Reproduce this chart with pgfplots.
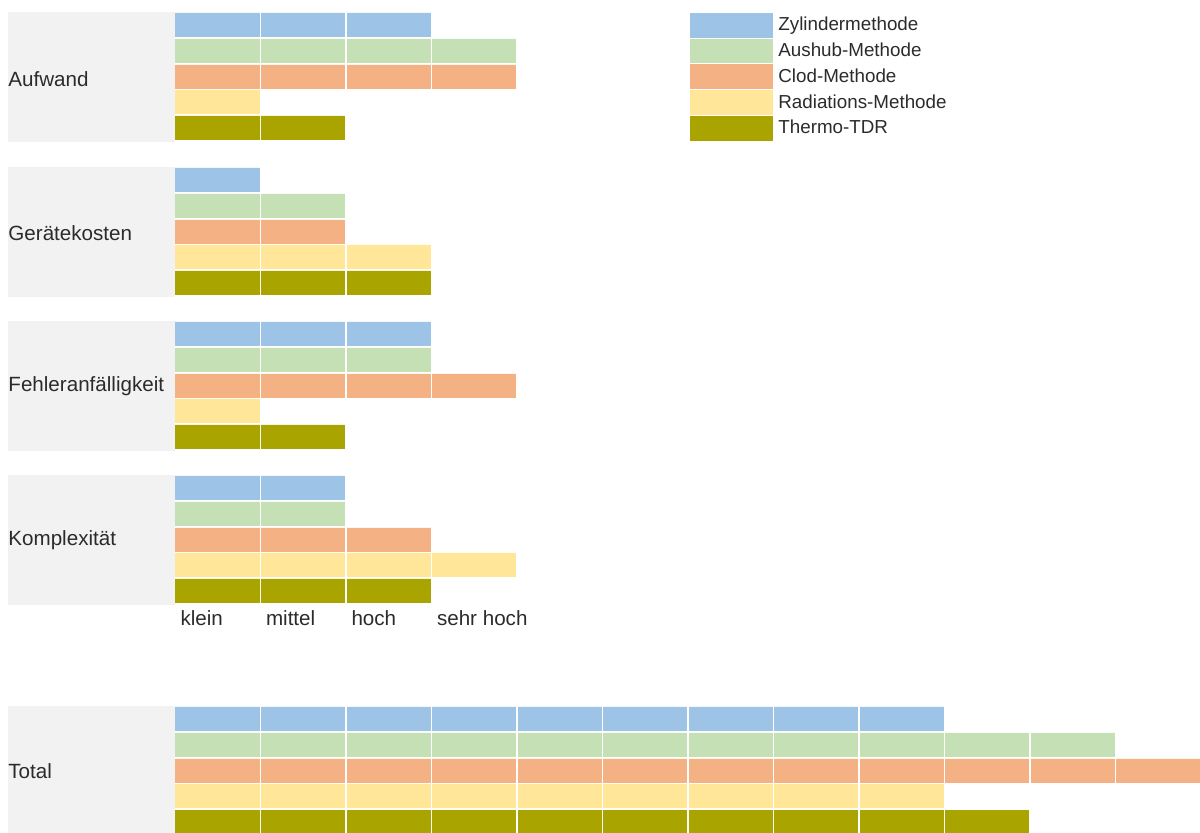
\documentclass[border=0pt]{standalone}
\usepackage{pgfplots}
\pgfplotsset{compat=1.18}
\usepackage{fontspec}
\setmainfont{Liberation Sans}

\definecolor{zyl}{HTML}{9DC3E6}
\definecolor{aus}{HTML}{C5E0B4}
\definecolor{clod}{HTML}{F4B183}
\definecolor{rad}{HTML}{FFE699}
\definecolor{thermo}{HTML}{A9A400}
\definecolor{panel}{HTML}{F2F2F2}
\definecolor{txt}{HTML}{2B2B2B}

\begin{document}
\begin{tikzpicture}[font=\fontsize{10.3}{12}\selectfont, text=txt]
\begin{axis}[
    scale only axis,
    width=600pt, height=416.5pt,
    xmin=-2.0468, xmax=11.9883,
    ymin=0, ymax=833, y dir=reverse,
    axis line style={draw=none},
    xtick={1,...,12}, xticklabels={}, ytick=\empty,
    major tick length=0pt,
    xmajorgrids,
    major grid style={white, line width=0.8pt},
    axis on top,
    legend style={at={(axis cs:6.023,12)}, anchor=north west,
        draw=none, fill=none, inner sep=0pt, row sep=0pt, column sep=2.5pt,
        font=\fontsize{9.4}{11}\selectfont, text=txt,
        nodes={inner sep=0pt, minimum height=12.9pt}},
    legend cell align=left,
    legend image code/.code={\fill[#1,draw=none] (0pt,-6.2pt) rectangle (41.5pt,6.2pt);},
]

% graue Felder hinter den Kategorien
\fill[panel] (axis cs:-1.953,12) rectangle (axis cs:0,142);
\fill[panel] (axis cs:-1.953,167) rectangle (axis cs:0,297);
\fill[panel] (axis cs:-1.953,321) rectangle (axis cs:0,451);
\fill[panel] (axis cs:-1.953,475) rectangle (axis cs:0,605);
\fill[panel] (axis cs:-1.953,706) rectangle (axis cs:0,833);

% Aufwand, Geraetekosten, Fehleranfaelligkeit, Komplexitaet, Total
\addplot[xbar, bar shift=0pt, bar width=24, fill=zyl, draw=none] coordinates {
    (3,25) (1,180) (3,334) (2,488) (9,719)
};
\addlegendentry{Zylindermethode}
\addplot[xbar, bar shift=0pt, bar width=24, fill=aus, draw=none] coordinates {
    (4,51) (2,206) (3,360) (2,514) (11,745)
};
\addlegendentry{Aushub-Methode}
\addplot[xbar, bar shift=0pt, bar width=24, fill=clod, draw=none] coordinates {
    (4,77) (2,232) (4,386) (3,540) (13,771)
};
\addlegendentry{Clod-Methode}
\addplot[xbar, bar shift=0pt, bar width=24, fill=rad, draw=none] coordinates {
    (1,102) (3,257) (1,411) (4,565) (9,796)
};
\addlegendentry{Radiations-Methode}
\addplot[xbar, bar shift=0pt, bar width=24, fill=thermo, draw=none] coordinates {
    (2,128) (3,283) (2,437) (3,591) (10,822)
};
\addlegendentry{Thermo-TDR}

\coordinate (c1) at (axis cs:-1.953,79);
\coordinate (c2) at (axis cs:-1.953,233);
\coordinate (c3) at (axis cs:-1.953,386);
\coordinate (c4) at (axis cs:-1.953,540);
\coordinate (c5) at (axis cs:-1.953,771);
\coordinate (t1) at (axis cs:0.06,618);
\coordinate (t2) at (axis cs:1.06,618);
\coordinate (t3) at (axis cs:2.06,618);
\coordinate (t4) at (axis cs:3.06,618);
\end{axis}

\node[anchor=west, inner sep=0pt] at (c1) {Aufwand};
\node[anchor=west, inner sep=0pt] at (c2) {Gerätekosten};
\node[anchor=west, inner sep=0pt] at (c3) {Fehleranfälligkeit};
\node[anchor=west, inner sep=0pt] at (c4) {Komplexität};
\node[anchor=west, inner sep=0pt] at (c5) {Total};

\node[anchor=west, inner sep=0pt] at (t1) {klein};
\node[anchor=west, inner sep=0pt] at (t2) {mittel};
\node[anchor=west, inner sep=0pt] at (t3) {hoch};
\node[anchor=west, inner sep=0pt] at (t4) {sehr hoch};

\pgfresetboundingbox
\path[use as bounding box] (current axis.south west) rectangle (current axis.north east);
\end{tikzpicture}
\end{document}
